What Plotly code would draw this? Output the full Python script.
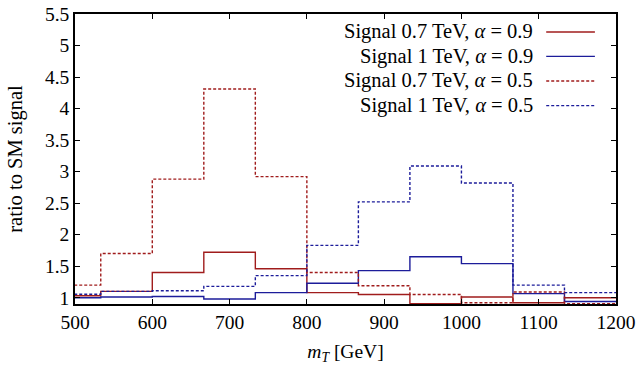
import plotly.graph_objects as go

# bin edges (GeV)
edges = [466.67, 533.33, 600.0, 666.67, 733.33, 800.0, 866.67, 933.33, 1000.0, 1066.67, 1133.33, 1200.0]

sig07_a09 = [1.03, 1.10, 1.40, 1.72, 1.46, 1.08, 1.05, 0.905, 1.01, 0.92, 1.00]
sig10_a09 = [1.00, 1.01, 1.02, 0.98, 1.08, 1.23, 1.43, 1.65, 1.54, 1.065, 0.94]
sig07_a05 = [1.20, 1.70, 2.88, 4.31, 2.92, 1.40, 1.19, 1.05, 0.92, 1.09, 0.905]
sig10_a05 = [1.055, 1.10, 1.11, 1.18, 1.35, 1.83, 2.52, 3.09, 2.82, 1.20, 1.08]

labels = [
    "Signal 0.7 TeV, <i>α</i> = 0.9",
    "Signal 1 TeV, <i>α</i> = 0.9",
    "Signal 0.7 TeV, <i>α</i> = 0.5",
    "Signal 1 TeV, <i>α</i> = 0.5",
]

x_ticks = [500, 600, 700, 800, 900, 1000, 1100, 1200]
y_ticks = [1, 1.5, 2, 2.5, 3, 3.5, 4, 4.5, 5, 5.5]
y_ticktext = ["1", "1.5", "2", "2.5", "3", "3.5", "4", "4.5", "5", "5.5"]

RED = "#a01c1c"
BLUE = "#1c1c9a"
FONT = "Liberation Serif"
FS = 19.5

series = [
    (sig07_a09, RED, "solid"),
    (sig10_a09, BLUE, "solid"),
    (sig07_a05, RED, "3px,2px"),
    (sig10_a05, BLUE, "3px,2px"),
]

fig = go.Figure()
for (vals, col, dash), lab in zip(series, labels):
    fig.add_trace(go.Scatter(
        x=edges, y=vals + [vals[-1]], mode="lines", line_shape="hv",
        line=dict(color=col, width=1.4, dash=dash), name=lab, showlegend=False,
    ))

# custom legend (text right, sample line on the right)
rows_y = [0.938, 0.854, 0.769, 0.684]
for (vals, col, dash), lab, yy in zip(series, labels, rows_y):
    fig.add_annotation(xref="x domain", yref="y domain", x=0.851, y=yy,
                       text=lab, showarrow=False, xanchor="right", yanchor="middle",
                       font=dict(family=FONT, size=20.5, color="black"))
    fig.add_shape(type="line", xref="x domain", yref="y domain",
                  x0=0.871, x1=0.961, y0=yy, y1=yy,
                  line=dict(color=col, width=1.4, dash=dash))

axis_common = dict(
    showline=True, linecolor="black", linewidth=1.5, mirror="allticks",
    ticks="inside", ticklen=5, tickwidth=1, tickcolor="black",
    showgrid=False, zeroline=False, automargin=False,
    tickfont=dict(family=FONT, size=FS, color="black"),
)

fig.update_xaxes(range=[500, 1200], tickvals=x_ticks,
                 title=dict(text="<i>m<sub>T</sub></i> [GeV]", font=dict(family=FONT, size=FS, color="black"), standoff=13),
                 **axis_common)
fig.update_yaxes(range=[0.9, 5.5], tickvals=y_ticks, ticktext=y_ticktext,
                 ticklabelstandoff=0,
                 title=dict(text="ratio to SM signal", font=dict(family=FONT, size=20.5, color="black"), standoff=17),
                 **axis_common)

fig.update_layout(
    width=641, height=365,
    margin=dict(l=75, r=25, t=14, b=61),
    plot_bgcolor="white", paper_bgcolor="white",
    font=dict(family=FONT, size=FS, color="black"),
)

fig.write_html("out.html")
